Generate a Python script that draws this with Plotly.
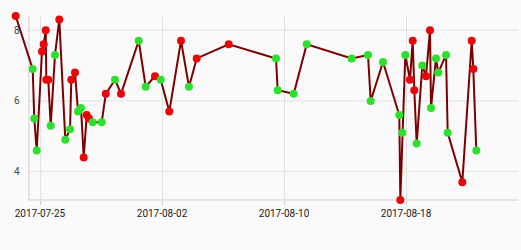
import plotly.graph_objects as go

times = [
    "2017-07-23 09:45", "2017-07-24 12:30", "2017-07-24 15:00", "2017-07-24 18:50",
    "2017-07-25 03:10", "2017-07-25 05:50", "2017-07-25 09:00", "2017-07-25 09:55",
    "2017-07-25 13:00", "2017-07-25 16:50", "2017-07-25 23:35", "2017-07-26 06:20",
    "2017-07-26 15:50", "2017-07-26 23:13", "2017-07-27 01:15", "2017-07-27 07:05",
    "2017-07-27 11:50", "2017-07-27 16:32", "2017-07-27 20:47", "2017-07-28 01:30",
    "2017-07-28 05:07", "2017-07-28 10:56", "2017-07-29 01:06", "2017-07-29 07:33",
    "2017-07-29 22:02", "2017-07-30 07:28", "2017-07-31 11:20", "2017-07-31 22:20",
    "2017-08-01 13:00", "2017-08-01 21:57", "2017-08-02 11:30", "2017-08-03 05:54",
    "2017-08-03 18:29", "2017-08-04 06:36", "2017-08-06 08:58", "2017-08-09 11:24",
    "2017-08-09 14:05", "2017-08-10 15:16", "2017-08-11 11:44", "2017-08-14 10:32",
    "2017-08-15 12:11", "2017-08-15 16:26", "2017-08-16 11:48", "2017-08-17 13:28",
    "2017-08-17 15:02", "2017-08-17 18:10", "2017-08-17 22:54", "2017-08-18 06:17",
    "2017-08-18 10:32", "2017-08-18 13:03", "2017-08-18 16:50", "2017-08-19 01:40",
    "2017-08-19 07:28", "2017-08-19 13:46", "2017-08-19 15:20", "2017-08-19 23:12",
    "2017-08-20 02:50", "2017-08-20 14:57", "2017-08-20 17:37", "2017-08-21 16:36",
    "2017-08-22 07:24", "2017-08-22 09:55", "2017-08-22 14:38",
]
values = [
    8.4, 6.9, 5.5, 4.6, 7.4, 7.6, 8.0, 6.6, 6.6, 5.3, 7.3, 8.3,
    4.9, 5.2, 6.6, 6.8, 5.7, 5.8, 4.4, 5.6, 5.5, 5.4, 5.4, 6.2,
    6.6, 6.2, 7.7, 6.4, 6.7, 6.6, 5.7, 7.7, 6.4, 7.2, 7.6, 7.2,
    6.3, 6.2, 7.6, 7.2, 7.3, 6.0, 7.1, 5.6, 3.2, 5.1, 7.3, 6.6,
    7.7, 6.3, 4.8, 7.0, 6.7, 8.0, 5.8, 7.2, 6.8, 7.3, 5.1, 3.7,
    7.7, 6.9, 4.6,
]
flags = [
    "r", "g", "g", "g", "r", "r", "r", "r", "r", "g", "g", "r",
    "g", "g", "r", "r", "g", "g", "r", "r", "r", "g", "g", "r",
    "g", "r", "g", "g", "r", "g", "r", "r", "g", "r", "r", "g",
    "g", "g", "g", "g", "g", "g", "g", "g", "r", "g", "g", "r",
    "r", "r", "g", "g", "r", "r", "g", "g", "g", "g", "g", "r",
    "r", "r", "g",
]
y_ticks = [4, 6, 8]
x_tick0 = "2017-07-25"

flag_colors = {"r": "#e8060a", "g": "#2ee02e"}
grid_col = "#e3e3e3"
axis_col = "#cfcfcf"

fig = go.Figure()
fig.add_trace(go.Scatter(
    x=times, y=values, mode="lines+markers",
    line=dict(color="#7d0000", width=2),
    marker=dict(color=[flag_colors[f] for f in flags], size=8, line=dict(width=0)),
    cliponaxis=False, hoverinfo="x+y",
))

grid_x0 = 0.0412
shapes = []
for t in y_ticks:
    shapes.append(dict(type="line", xref="paper", yref="y", x0=grid_x0, x1=1,
                       y0=t, y1=t, line=dict(color=grid_col, width=1), layer="below"))
shapes.append(dict(type="line", xref="paper", yref="paper", x0=grid_x0, x1=grid_x0,
                   y0=0, y1=1, line=dict(color=axis_col, width=1), layer="below"))
shapes.append(dict(type="line", xref="paper", yref="paper", x0=grid_x0, x1=1,
                   y0=0, y1=0, line=dict(color=axis_col, width=1), layer="below"))

fig.update_layout(
    width=521, height=250,
    margin=dict(l=8, r=3, t=16, b=50),
    paper_bgcolor="#fafafa", plot_bgcolor="#fafafa",
    showlegend=False,
    font=dict(family="Roboto", size=10, color="#222222"),
    shapes=shapes,
    xaxis=dict(
        type="date",
        range=["2017-07-22 21:38", "2017-08-25 08:15"],
        tick0=x_tick0, dtick=8 * 86400000, tickformat="%Y-%m-%d",
        showgrid=True, gridcolor=grid_col, gridwidth=1,
        ticks="outside", ticklen=4, tickcolor=axis_col,
        showline=False, zeroline=False,
    ),
    yaxis=dict(
        range=[3.2, 8.4], tickvals=y_ticks,
        showgrid=False, zeroline=False, showline=False,
        ticklabelposition="inside", ticks="", ticklabelstandoff=3,
    ),
)

fig.write_html("out.html")
